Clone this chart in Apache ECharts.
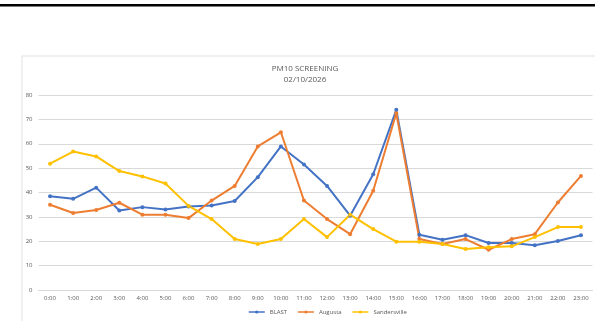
<!DOCTYPE html>
<html>
<head>
<meta charset="utf-8">
<script src="https://cdn.jsdelivr.net/npm/echarts@6/dist/echarts.min.js"></script>
<style>
  html, body { margin: 0; padding: 0; background: #fff; }
  #chart { width: 595px; height: 321px; }
</style>
</head>
<body>
<div id="chart"></div>
<script>
// Hourly PM10 readings for the three monitoring sites
const hours = ['0:00','1:00','2:00','3:00','4:00','5:00','6:00','7:00','8:00','9:00','10:00','11:00',
               '12:00','13:00','14:00','15:00','16:00','17:00','18:00','19:00','20:00','21:00','22:00','23:00'];
const blast = [38.5, 37.4, 42, 32.6, 34, 33, 34.3, 34.7, 36.5, 46.3, 58.9, 51.5,
               42.7, 30.5, 47.5, 73.9, 22.7, 20.6, 22.5, 19.3, 19.3, 18.4, 20.1, 22.5];
const augusta = [35, 31.6, 32.8, 35.8, 30.9, 30.9, 29.5, 36.7, 42.7, 58.9, 64.7, 36.7,
                 29.1, 22.9, 40.7, 72.5, 20.9, 18.9, 20.9, 16.5, 20.9, 22.9, 35.9, 46.8];
const sandersville = [51.8, 56.8, 54.8, 48.8, 46.6, 43.7, 34.5, 29.1, 20.9, 18.9, 20.9, 29.1,
                      21.7, 30.9, 25, 19.8, 19.8, 18.9, 16.8, 17.5, 17.9, 21.7, 25.8, 25.8];
const seriesNames = ['BLAST', 'Augusta', 'Sandersville'];
const titleText = 'PM10 SCREENING';
const subtitleText = '02/10/2026';

const colors = ['#4472C4', '#ED7D31', '#FFC000'];
const font = 'Open Sans, Liberation Sans, sans-serif';

function lineSeries(name, data, color) {
  return {
    name: name,
    type: 'line',
    data: data,
    symbol: 'circle',
    symbolSize: 4,
    lineStyle: { width: 2, color: color },
    itemStyle: { color: color },
    emphasis: { disabled: true }
  };
}

const chart = echarts.init(document.getElementById('chart'), null, { renderer: 'canvas' });
chart.setOption({
  animation: false,
  color: colors,
  graphic: [
    { type: 'rect', shape: { x: 0, y: 4, width: 595, height: 2.5 }, style: { fill: '#000' }, z: 10 },
    { type: 'rect', shape: { x: 22, y: 56, width: 600, height: 300 },
      style: { fill: 'none', stroke: '#ebebeb', lineWidth: 1.5 }, z: -1 },
    { type: 'text', x: 305, y: 63,
      style: { text: titleText + '\n' + subtitleText, align: 'center', fill: '#595959',
               font: '8px ' + font, lineHeight: 11 }, z: 10 }
  ],
  legend: {
    data: seriesNames,
    bottom: 1,
    left: 243,
    itemWidth: 16,
    itemHeight: 4,
    itemGap: 10,
    textStyle: { color: '#595959', fontSize: 6, fontFamily: font },
    itemStyle: { borderWidth: 0 },
    lineStyle: { width: 1.5 }
  },
  grid: { left: 38.5, right: 2.5, top: 95, bottom: 31 },
  xAxis: {
    type: 'category',
    data: hours,
    boundaryGap: true,
    axisLine: { lineStyle: { color: '#d9d9d9', width: 1 } },
    axisTick: { show: false },
    axisLabel: { color: '#595959', fontSize: 6, fontFamily: font, margin: 5, interval: 0 }
  },
  yAxis: {
    type: 'value',
    min: 0,
    max: 80,
    interval: 10,
    axisLine: { show: false },
    axisTick: { show: false },
    splitLine: { lineStyle: { color: '#d9d9d9', width: 1 } },
    axisLabel: { color: '#595959', fontSize: 6, fontFamily: font, margin: 6 }
  },
  series: [
    lineSeries(seriesNames[0], blast, colors[0]),
    lineSeries(seriesNames[1], augusta, colors[1]),
    lineSeries(seriesNames[2], sandersville, colors[2])
  ]
});
</script>
</body>
</html>
